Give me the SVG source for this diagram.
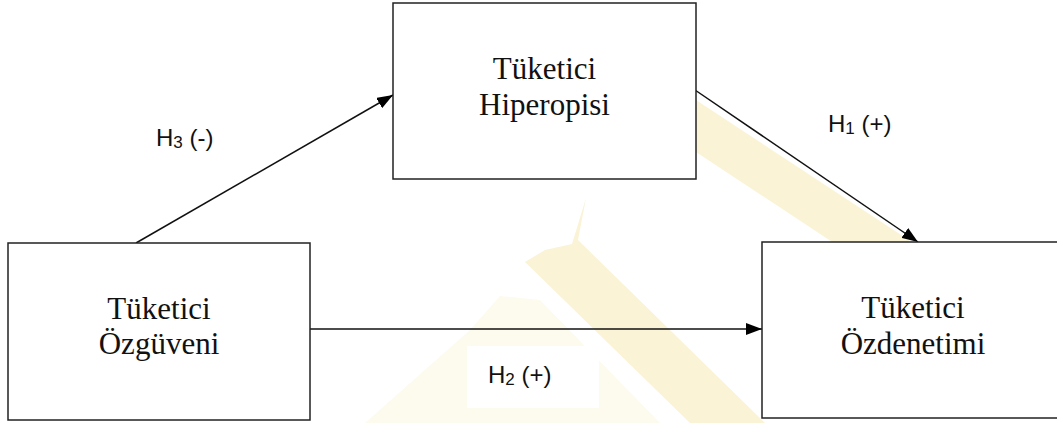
<svg xmlns="http://www.w3.org/2000/svg" width="1057" height="423" viewBox="0 0 1057 423">
  <style>
    .box { fill: #ffffff; stroke: #222222; stroke-width: 1.5; }
    .ntext { font-family: "Liberation Serif", "Times New Roman", serif; font-size: 31px; fill: #111111; text-anchor: middle; }
    .lbl { font-family: "Liberation Sans", Arial, sans-serif; font-size: 24px; fill: #111111; }
    .sub { font-size: 17px; }
    .conn { stroke: #111111; stroke-width: 1.5; fill: none; marker-end: url(#arrow); }
    .wm { fill: #faf3d6; }
    .wm2 { fill: #fdfaee; }
    .lblbg { fill: #ffffff; }
  </style>
  <defs>
    <marker id="arrow" markerUnits="userSpaceOnUse" markerWidth="16" markerHeight="12" refX="16" refY="6" orient="auto">
      <path d="M0,0 L16,6 L0,12 z" fill="#000000"/>
    </marker>
  </defs>
  <rect width="1057" height="423" fill="#ffffff"/>
  <g id="watermark">
    <polygon class="wm2" points="500,296 540,300 660,423 365,423 470,330"/>
    <polygon class="wm" points="696,100 1000,300 920,300 696,152"/>
    <polygon class="wm" points="586,198 578,240 765,423 690,423 525,262 545,250 572,244"/>
  </g>
  <g id="connectors">
    <line class="conn" x1="136" y1="243" x2="393" y2="95"/>
    <line class="conn" x1="695" y1="90" x2="918" y2="242"/>
    <line class="conn" x1="310" y1="329" x2="762" y2="329"/>
  </g>
  <g id="node-ozguven">
    <rect class="box" x="8" y="243" width="302" height="177"/>
    <text class="ntext" x="159" y="319">Tüketici</text>
    <text class="ntext" x="159" y="354">Özgüveni</text>
  </g>
  <g id="node-hiperopi">
    <rect class="box" x="393" y="3" width="303" height="176"/>
    <text class="ntext" x="544.5" y="79">Tüketici</text>
    <text class="ntext" x="544.5" y="115">Hiperopisi</text>
  </g>
  <g id="node-ozdenetim">
    <rect class="box" x="762" y="242" width="302" height="176"/>
    <text class="ntext" x="913" y="318">Tüketici</text>
    <text class="ntext" x="913" y="354">Özdenetimi</text>
  </g>
  <g id="label-h3">
    <text class="lbl" x="156" y="146">H<tspan class="sub" dy="2">3</tspan><tspan dy="-2"> (-)</tspan></text>
  </g>
  <g id="label-h1">
    <rect class="lblbg" x="808" y="93" width="127" height="62"/>
    <text class="lbl" x="828" y="132">H<tspan class="sub" dy="2">1</tspan><tspan dy="-2"> (+)</tspan></text>
  </g>
  <g id="label-h2">
    <rect class="lblbg" x="467" y="346" width="132" height="62"/>
    <text class="lbl" x="488" y="383">H<tspan class="sub" dy="2">2</tspan><tspan dy="-2"> (+)</tspan></text>
  </g>
</svg>
